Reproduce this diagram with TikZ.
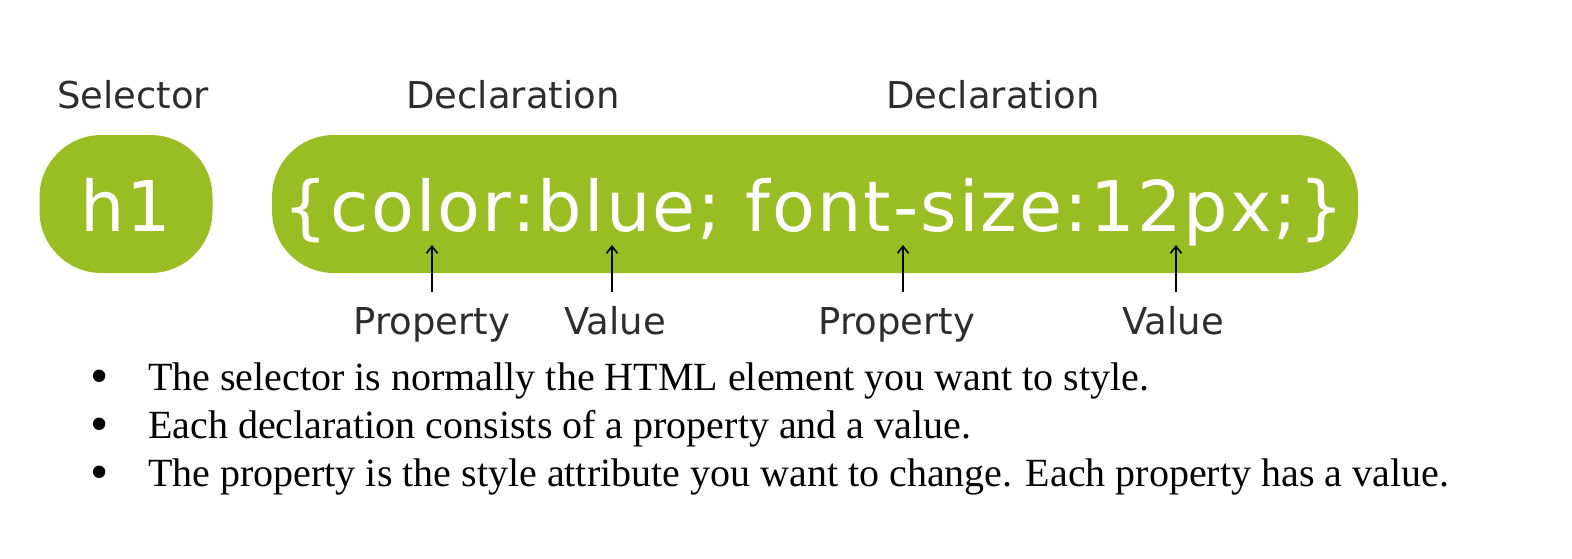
\documentclass[tikz,border=0pt]{standalone}
\usepackage{fontspec}
\setmainfont{Liberation Serif}
\newfontfamily\verd{DejaVu Sans}
\newfontfamily\verdsp[LetterSpace=3]{DejaVu Sans}
\usetikzlibrary{arrows.meta}
\definecolor{cssgreen}{RGB}{152,190,36}
\definecolor{lblgray}{RGB}{45,45,45}
\begin{document}
\begin{tikzpicture}[x=1pt,y=-1pt,
  pill/.style={fill=cssgreen,draw=none,rounded corners=62pt,inner sep=0pt},
  code/.style={text=white,font=\verdsp\fontsize{70}{74}\selectfont,inner sep=0pt},
  lbl/.style={text=lblgray,font=\verd\fontsize{37}{42}\selectfont,inner sep=0pt},
  arr/.style={draw=black,line width=1.6pt,-{Straight Barb[length=7pt,width=11pt,line width=1.6pt]}},
  bul/.style={font=\fontsize{40}{44}\selectfont,inner sep=0pt,anchor=base west},
  dot/.style={font=\fontsize{52}{44}\selectfont,inner sep=0pt,anchor=base}
]
\useasboundingbox (0,0) rectangle (1572,558);
% pills
\node[pill,minimum width=173pt,minimum height=138pt] (sel) at (126,204) {};
\node[pill,minimum width=1086pt,minimum height=138pt] (decl) at (815,204) {};
\node[code,anchor=base] (h1) at (126,231) {h1};
\node[code,anchor=base] (codetxt) at (814,231) {\{color:blue; font-size:12px;\}};
% top labels
\node[lbl,anchor=base] (lsel) at (133,108) {Selector};
\node[lbl,anchor=base] (ldec1) at (513,108) {Declaration};
\node[lbl,anchor=base] (ldec2) at (993,108) {Declaration};
% bottom labels
\node[lbl,anchor=base] (lp1) at (432,334) {Property};
\node[lbl,anchor=base] (lv1) at (615,334) {Value};
\node[lbl,anchor=base] (lp2) at (897,334) {Property};
\node[lbl,anchor=base] (lv2) at (1173,334) {Value};
% arrows
\coordinate (a1b) at (432,292); \coordinate (a1t) at (432,245);
\coordinate (a2b) at (612,292); \coordinate (a2t) at (612,245);
\coordinate (a3b) at (903,292); \coordinate (a3t) at (903,245);
\coordinate (a4b) at (1176,292); \coordinate (a4t) at (1176,245);
\draw[arr] (a1b) -- (a1t);
\draw[arr] (a2b) -- (a2t);
\draw[arr] (a3b) -- (a3t);
\draw[arr] (a4b) -- (a4t);
% bullets
\node[dot] (b1) at (100,393) {•};
\node[bul] (t1) at (148,390) {The selector is normally the HTML element you want to style.};
\node[dot] (b2) at (100,441) {•};
\node[bul] (t2) at (148,438) {Each declaration consists of a property and a value.};
\node[dot] (b3) at (100,489) {•};
\node[bul] (t3) at (148,486) {The property is the style attribute you want to change. Each property has a value.};
\end{tikzpicture}
\end{document}
